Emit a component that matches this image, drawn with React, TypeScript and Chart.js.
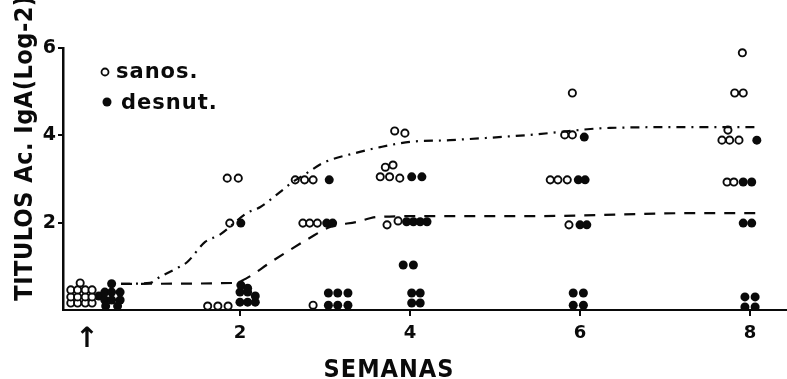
import { useEffect, useRef } from 'react';
import { Chart, registerables } from 'chart.js';

Chart.register(...registerables);

// ---- data (weeks on x, log-2 titre on y) ----
const weekTicks = [0.2, 2, 4, 6, 8];
const weekTickLabels = ['↑', '2', '4', '6', '8'];
const titerTicks = [0, 2, 4, 6];

const sanosX = [
  0.01, 0.09, 0.18, 0.26, 0.01, 0.09, 0.18, 0.26, 0.01, 0.09, 0.18, 0.26, 0.12,
  1.85, 1.98, 1.88, 1.62, 1.74, 1.86,
  2.65, 2.76, 2.86, 2.74, 2.82, 2.91, 2.86,
  3.82, 3.94, 3.71, 3.8, 3.65, 3.76, 3.88, 3.73, 3.86,
  5.91, 5.82, 5.91, 5.65, 5.74, 5.85, 5.87,
  7.91, 7.82, 7.92, 7.74, 7.67, 7.76, 7.87, 7.73, 7.81,
];
const sanosY = [
  0.16, 0.16, 0.16, 0.16, 0.3, 0.3, 0.3, 0.3, 0.46, 0.46, 0.46, 0.46, 0.62,
  3.02, 3.02, 1.99, 0.09, 0.09, 0.09,
  2.98, 2.98, 2.98, 1.99, 1.99, 1.99, 0.11,
  4.1, 4.05, 3.27, 3.32, 3.05, 3.05, 3.02, 1.95, 2.04,
  4.97, 4.01, 4.01, 2.98, 2.98, 2.98, 1.95,
  5.89, 4.97, 4.97, 4.12, 3.89, 3.89, 3.89, 2.93, 2.93,
];

const desnutX = [
  0.34, 0.41, 0.49, 0.59, 0.41, 0.49, 0.59, 0.49, 0.42, 0.56,
  2.01, 2.0, 2.09, 2.18, 2.0, 2.09, 2.18, 2.01, 2.09,
  3.05, 3.02, 3.09, 3.04, 3.15, 3.27, 3.04, 3.15, 3.27,
  4.02, 4.14, 3.96, 4.04, 4.12, 4.2, 3.92, 4.04, 4.02, 4.12, 4.02, 4.12,
  6.05, 5.98, 6.06, 6.0, 6.08, 5.92, 6.04, 5.92, 6.04,
  8.08, 7.92, 8.02, 7.92, 8.02, 7.94, 8.06, 7.94, 8.06,
];
const desnutY = [
  0.32, 0.23, 0.23, 0.23, 0.41, 0.41, 0.41, 0.6, 0.09, 0.09,
  1.99, 0.18, 0.18, 0.18, 0.41, 0.41, 0.32, 0.57, 0.5,
  2.98, 1.99, 1.99, 0.39, 0.39, 0.39, 0.11, 0.11, 0.11,
  3.05, 3.05, 2.02, 2.02, 2.02, 2.02, 1.03, 1.03, 0.39, 0.39, 0.16, 0.16,
  3.96, 2.98, 2.98, 1.95, 1.95, 0.39, 0.39, 0.11, 0.11,
  3.89, 2.93, 2.93, 1.99, 1.99, 0.3, 0.3, 0.07, 0.07,
];

const sanosCurveX = [0.6, 0.94, 1.06, 1.26, 1.38, 1.59, 1.76, 2.08, 2.24, 2.47, 2.62, 2.79, 2.98, 3.41, 3.65, 4.0, 4.47, 5.41, 6.35, 7.41, 8.12];
const sanosCurveY = [0.6, 0.62, 0.76, 0.96, 1.1, 1.56, 1.72, 2.22, 2.36, 2.7, 2.93, 3.14, 3.37, 3.62, 3.73, 3.85, 3.89, 4.01, 4.17, 4.19, 4.19];

const desnutCurveX = [0.6, 1.94, 2.08, 2.35, 2.55, 2.82, 3.06, 3.38, 3.61, 4.12, 5.41, 7.41, 8.12];
const desnutCurveY = [0.6, 0.62, 0.73, 1.08, 1.33, 1.65, 1.9, 2.02, 2.13, 2.15, 2.15, 2.22, 2.22];

const legendLabels = ['sanos.', 'desnut.'];
const xTitle = 'SEMANAS';
const yTitle = 'TITULOS Ac. IgA(Log-2)';

const W = 787;
const H = 379;
const INK = '#0a0a0a';

const pts = (xs: number[], ys: number[]) => xs.map((x, i) => ({ x, y: ys[i] }));

const textPlugin = {
  id: 'textPlugin',
  afterDraw(chart: any) {
    const ctx = chart.ctx as CanvasRenderingContext2D;
    ctx.save();
    ctx.fillStyle = INK;
    ctx.strokeStyle = INK;
    // legend
    ctx.lineWidth = 1.8;
    ctx.beginPath();
    ctx.arc(105, 72, 3.5, 0, Math.PI * 2);
    ctx.fillStyle = '#fff';
    ctx.fill();
    ctx.stroke();
    ctx.fillStyle = INK;
    ctx.beginPath();
    ctx.arc(107, 102, 4.5, 0, Math.PI * 2);
    ctx.fill();
    ctx.font = "bold 21px 'DejaVu Sans'";
    (ctx as any).letterSpacing = '1px';
    ctx.textAlign = 'left';
    ctx.textBaseline = 'alphabetic';
    ctx.fillText(legendLabels[0], 116, 78);
    ctx.fillText(legendLabels[1], 121, 109);
    // x title
    (ctx as any).letterSpacing = '1px';
    ctx.font = "bold 25px 'DejaVu Sans Condensed'";
    ctx.textAlign = 'center';
    ctx.fillText(xTitle, 389, 377);
    // y title
    (ctx as any).letterSpacing = '0.5px';
    ctx.translate(32, 148);
    ctx.rotate(-Math.PI / 2);
    ctx.font = "bold 25px 'DejaVu Sans Condensed'";
    ctx.textAlign = 'center';
    ctx.fillText(yTitle, 0, 0);
    ctx.restore();
  },
};

export default function App() {
  const ref = useRef<HTMLCanvasElement>(null);
  useEffect(() => {
    const chart = new Chart(ref.current as HTMLCanvasElement, {
      type: 'scatter',
      data: {
        datasets: [
          {
            label: 'sanos (media)',
            data: pts(sanosCurveX, sanosCurveY),
            showLine: true,
            borderColor: INK,
            borderWidth: 2.2,
            borderDash: [9, 6, 2, 6],
            pointRadius: 0,
            cubicInterpolationMode: 'monotone',
            fill: false,
          } as any,
          {
            label: 'desnut (media)',
            data: pts(desnutCurveX, desnutCurveY),
            showLine: true,
            borderColor: INK,
            borderWidth: 2.2,
            borderDash: [11, 9],
            pointRadius: 0,
            cubicInterpolationMode: 'monotone',
            fill: false,
          } as any,
          {
            label: 'sanos',
            data: pts(sanosX, sanosY),
            pointRadius: 3.6,
            pointBorderWidth: 1.9,
            pointBackgroundColor: '#fff',
            pointBorderColor: INK,
            backgroundColor: '#fff',
            borderColor: INK,
          },
          {
            label: 'desnut',
            data: pts(desnutX, desnutY),
            pointRadius: 4.5,
            pointBorderWidth: 0,
            pointBackgroundColor: INK,
            backgroundColor: INK,
            borderColor: INK,
          },
        ],
      },
      options: {
        responsive: false,
        animation: false,
        devicePixelRatio: 1,
        layout: { autoPadding: false, padding: { top: 48, left: 0, right: 0, bottom: 0 } },
        plugins: { legend: { display: false }, tooltip: { enabled: false }, title: { display: false } },
        scales: {
          x: {
            type: 'linear',
            min: -0.082,
            max: 8.435,
            afterBuildTicks: (s: any) => {
              s.ticks = weekTicks.map((v) => ({ value: v }));
            },
            afterFit: (s: any) => {
              s.height = 69;
              s.paddingLeft = 0;
              s.paddingRight = 0;
            },
            border: { display: true, color: INK, width: 2 },
            grid: {
              display: true,
              drawOnChartArea: false,
              drawTicks: true,
              tickLength: 6,
              lineWidth: 2,
              color: (c: any) => (c.tick && c.tick.value < 1 ? 'rgba(0,0,0,0)' : INK),
            },
            ticks: {
              autoSkip: false,
              maxRotation: 0,
              padding: 7,
              color: INK,
              font: (c: any) => ({
                family: 'DejaVu Sans',
                weight: 'bold',
                size: c.tick && c.tick.value < 1 ? 28 : 18,
              }),
              callback: (_v: any, i: number) => weekTickLabels[i],
            },
          },
          y: {
            type: 'linear',
            min: 0,
            max: 6,
            afterBuildTicks: (s: any) => {
              s.ticks = titerTicks.map((v) => ({ value: v }));
            },
            afterFit: (s: any) => {
              s.width = 63;
            },
            border: { display: true, color: INK, width: 2.5 },
            grid: {
              display: true,
              drawOnChartArea: false,
              drawTicks: true,
              tickLength: 5,
              lineWidth: 2,
              color: (c: any) => (c.tick && c.tick.value === 0 ? 'rgba(0,0,0,0)' : INK),
            },
            ticks: {
              autoSkip: false,
              padding: 2,
              color: INK,
              font: { family: 'DejaVu Sans', weight: 'bold', size: 19 },
              callback: (v: any) => (v === 0 ? '' : String(v)),
            },
          },
        },
      } as any,
      plugins: [textPlugin],
    });
    return () => chart.destroy();
  }, []);
  return (
    <div style={{ position: 'fixed', left: 0, top: 0, width: W, height: H, background: '#fff' }}>
      <canvas ref={ref} width={W} height={H} style={{ display: 'block' }} />
    </div>
  );
}
